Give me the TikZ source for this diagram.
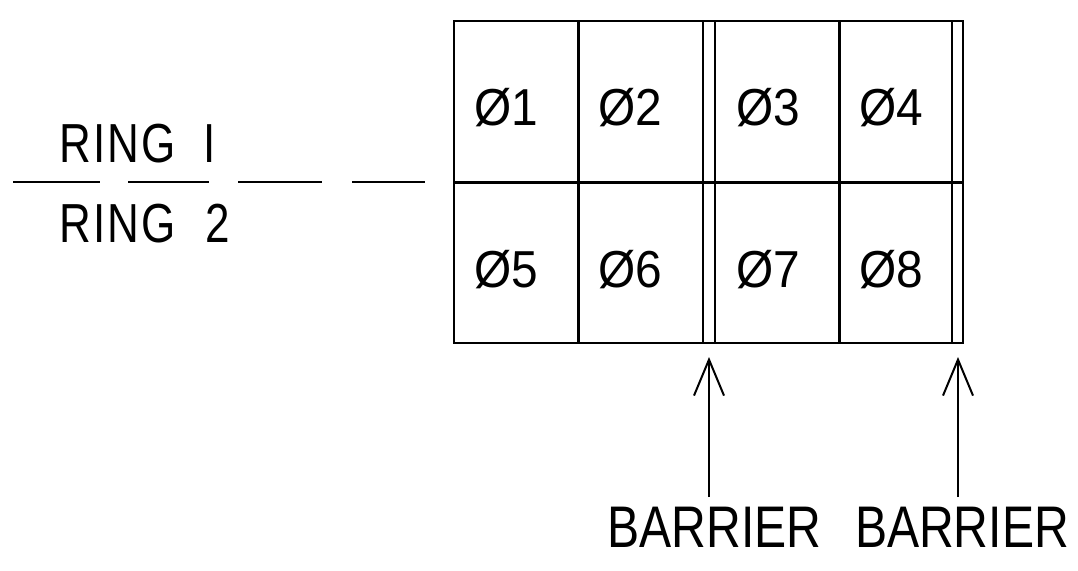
\documentclass[tikz,border=0pt]{standalone}
\usepackage{fontspec}
\setmainfont[FakeStretch=0.92]{Liberation Sans}
\newfontfamily\narrowfont[FakeStretch=0.82]{Liberation Sans}
\newfontfamily\ringfont[FakeStretch=0.8,LetterSpace=4]{Liberation Sans}
\usetikzlibrary{arrows.meta}
\begin{document}
\begin{tikzpicture}[x=1pt,y=-1pt,
  gridline/.style={line width=2.2pt, line cap=rect},
  celltext/.style={inner sep=0pt, anchor=base west, font=\fontsize{52}{52}\selectfont},
  ringtext/.style={inner sep=0pt, anchor=base west, font=\ringfont\fontsize{55}{55}\selectfont},
  barriertext/.style={inner sep=0pt, anchor=base, font=\narrowfont\fontsize{58.7}{58.7}\selectfont},
  pointer/.style={line width=2pt, -{Straight Barb[length=36pt,width=30pt,line width=2pt]}},
  divider/.style={line width=2pt, dash pattern=on 87pt off 28pt on 81pt off 29pt on 84pt off 30pt on 73pt off 10pt}]
\useasboundingbox (0,0) rectangle (1078,570);
% grid
\draw[gridline] (454,21) rectangle (963.3,343.3);
\draw[gridline] (454,182.5) -- (963.3,182.5);
\foreach \x in {578.5,703.3,715.3,839.5,951.7}
  \draw[gridline] (\x,21) -- (\x,343.3);
% cell labels
\node[celltext] (c1) at (474,125.5) {Ø1};
\node[celltext] (c2) at (598,125.5) {Ø2};
\node[celltext] (c3) at (736,125.5) {Ø3};
\node[celltext] (c4) at (859,125.5) {Ø4};
\node[celltext] (c5) at (474,287.5) {Ø5};
\node[celltext] (c6) at (598,287.5) {Ø6};
\node[celltext] (c7) at (736,287.5) {Ø7};
\node[celltext] (c8) at (859,287.5) {Ø8};
% ring labels
\node[ringtext] (r1) at (59,162) {RING\hspace{28pt}I};
\node[ringtext] (r2) at (59,242) {RING\hspace{30pt}2};
\coordinate (d0) at (13,182);
\coordinate (d1) at (435,182);
\draw[divider] (d0) -- (d1);
% barrier labels and arrows
\node[barriertext] (b1) at (714.5,547) {BARRIER};
\node[barriertext] (b2) at (962,547) {BARRIER};
\coordinate (s1) at (709,497);
\coordinate (t1) at (709,357);
\coordinate (s2) at (958,497);
\coordinate (t2) at (958,357);
\draw[pointer] (s1) -- (t1);
\draw[pointer] (s2) -- (t2);
\end{tikzpicture}
\end{document}
